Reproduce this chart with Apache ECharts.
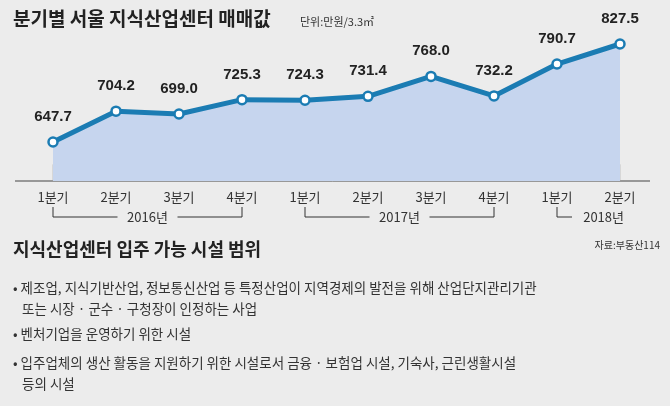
<!DOCTYPE html>
<html><head><meta charset="utf-8">
<script src="https://cdn.jsdelivr.net/npm/echarts@6/dist/echarts.min.js"></script>
<style>
body{margin:0;background:#ececec;}
#c{width:670px;height:406px;}
</style></head><body><div id="c"></div>
<script>
// 분기별 매매값 (만원/3.3㎡)
var quarters=['1분기','2분기','3분기','4분기','1분기','2분기','3분기','4분기','1분기','2분기'];
var prices=[647.7,704.2,699.0,725.3,724.3,731.4,768.0,732.2,790.7,827.5];
var years=[['2016년',0,3],['2017년',4,7],['2018년',8,9]];
var bullets=[
  '• 제조업, 지식기반산업, 정보통신산업 등 특정산업이 지역경제의 발전을 위해 산업단지관리기관\n   또는 시장 · 군수 · 구청장이 인정하는 사업',
  '• 벤처기업을 운영하기 위한 시설',
  '• 입주업체의 생산 활동을 지원하기 위한 시설로서 금융 · 보험업 시설, 기숙사, 근린생활시설\n   등의 시설'
];

var font='"Noto Sans CJK KR", sans-serif';
var chart=echarts.init(document.getElementById('c'));
chart.setOption({
  backgroundColor:'#ececec',
  animation:false,
  grid:{left:53,right:50,top:44,bottom:225},
  xAxis:{type:'category',data:quarters,boundaryGap:false,
    axisLine:{show:false},axisTick:{show:false},
    axisLabel:{color:'#333',fontSize:13,fontFamily:font,margin:10}},
  yAxis:{type:'value',min:576,max:827.5,show:false},
  series:[{type:'line',data:prices,symbol:'circle',symbolSize:9,
    lineStyle:{color:'#1b7cb3',width:5},
    itemStyle:{color:'#fff',borderColor:'#1b7cb3',borderWidth:2.5},
    areaStyle:{color:'#c6d5ee',opacity:1},
    label:{show:true,position:'top',distance:12,color:'#222',fontSize:15,fontWeight:'bold',
      fontFamily:'"Liberation Sans Narrow", "Liberation Sans", sans-serif',
      formatter:function(p){return p.value.toFixed(1);}}
  }]
});

var g=[];
var yGap=chart.convertToPixel({yAxisIndex:0},612);
var yBase=chart.convertToPixel({yAxisIndex:0},576);
var x0=chart.convertToPixel({xAxisIndex:0},0),x9=chart.convertToPixel({xAxisIndex:0},9);
g.push({type:'rect',shape:{x:x0,y:yGap-2,width:x9-x0+1,height:5},style:{fill:'#ececec'}});
g.push({type:'line',shape:{x1:15,y1:yBase,x2:650,y2:yBase},style:{stroke:'#444',lineWidth:1}});
prices.forEach(function(v,i){
  var x=chart.convertToPixel({xAxisIndex:0},i);
  g.push({type:'line',shape:{x1:x,y1:yGap+3,x2:x,y2:yBase},style:{stroke:'#aaa',lineWidth:0.6}});
});
years.forEach(function(y){
  var a=chart.convertToPixel({xAxisIndex:0},y[1]),b=chart.convertToPixel({xAxisIndex:0},y[2]);
  var ty=yBase+36;
  if(y[1]===8){
    g.push({type:'polyline',shape:{points:[[a,ty-10],[a,ty],[b-48,ty]]},style:{stroke:'#333',fill:null,lineWidth:1}});
    g.push({type:'text',style:{text:y[0],x:b+4,y:ty,align:'right',verticalAlign:'middle',fill:'#333',fontSize:13,fontFamily:font}});
    return;
  }
  var mid=(a+b)/2;
  g.push({type:'polyline',shape:{points:[[a,ty-10],[a,ty],[mid-30,ty]]},style:{stroke:'#333',fill:null,lineWidth:1}});
  g.push({type:'polyline',shape:{points:[[b,ty-10],[b,ty],[mid+30,ty]]},style:{stroke:'#333',fill:null,lineWidth:1}});
  g.push({type:'text',style:{text:y[0],x:mid,y:ty,align:'center',verticalAlign:'middle',fill:'#333',fontSize:13,fontFamily:font}});
});
g.push({type:'text',style:{text:'분기별 서울 지식산업센터 매매값',x:13,y:9,fill:'#222',fontSize:19,fontWeight:'bold',fontFamily:font}});
g.push({type:'text',style:{text:'단위:만원/3.3㎡',x:300,y:16,fill:'#333',fontSize:11,fontFamily:font}});
g.push({type:'text',style:{text:'자료:부동산114',x:660,y:240,align:'right',fill:'#333',fontSize:10,fontFamily:font}});
g.push({type:'text',style:{text:'지식산업센터 입주 가능 시설 범위',x:13,y:240,fill:'#222',fontSize:18,fontWeight:'bold',fontFamily:font}});
var by=[277,323,352];
bullets.forEach(function(t,i){
  g.push({type:'text',style:{text:t,x:13,y:by[i],fill:'#333',fontSize:13.5,lineHeight:21,fontFamily:font}});
});
chart.setOption({graphic:g});
</script></body></html>
